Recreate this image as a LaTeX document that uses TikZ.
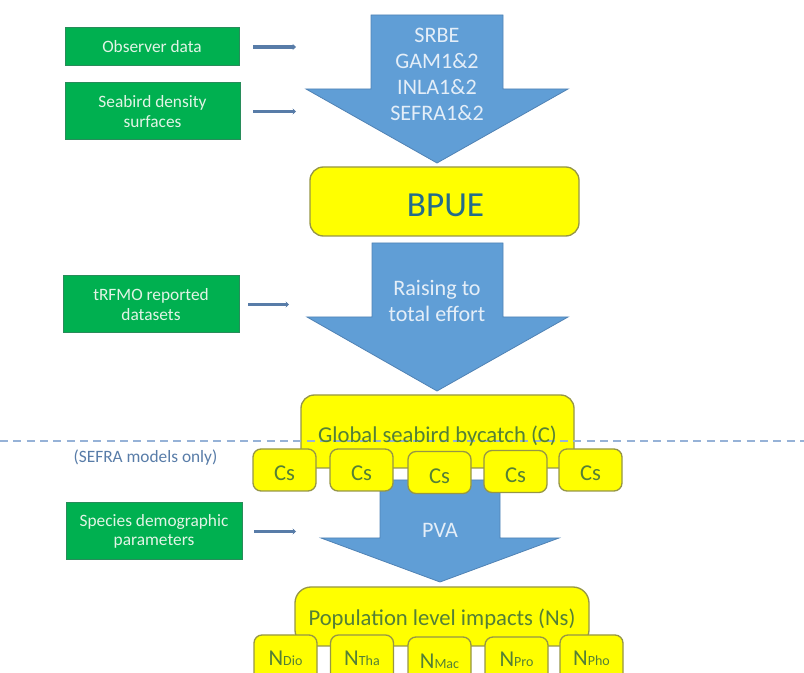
\documentclass[tikz,border=0pt]{standalone}
\usepackage{fontspec}
\setmainfont{Carlito}
\usetikzlibrary{arrows.meta}

\definecolor{datfill}{RGB}{0,176,80}
\definecolor{datedge}{RGB}{40,140,90}
\definecolor{dattext}{RGB}{226,244,230}
\definecolor{arrfill}{RGB}{96,158,214}
\definecolor{arredge}{RGB}{80,130,180}
\definecolor{arrtext}{RGB}{228,238,248}
\definecolor{yelfill}{RGB}{255,255,0}
\definecolor{yeledge}{RGB}{150,150,70}
\definecolor{yeltext}{RGB}{84,128,54}
\definecolor{bpuetext}{RGB}{36,108,138}
\definecolor{feedline}{RGB}{88,124,168}
\definecolor{cutline}{RGB}{150,178,215}

\tikzset{every picture/.style={line width=0.75pt}}
\tikzset{
  databox/.style={draw=datedge, fill=datfill, text=dattext, align=center, inner sep=0pt, outer sep=0pt,
    font=\fontsize{13}{14.5}\selectfont},
  feed/.style={draw=feedline, line width=2.6pt, -{Stealth[length=2.5pt,width=4.5pt]}},
  bigarrow/.style={draw=arredge, fill=arrfill, line width=0.6pt},
  arrlabel/.style={text=arrtext, align=center, inner sep=0pt, font=\fontsize{16.6}{19.5}\selectfont},
  yelbox/.style={draw=yeledge, fill=yelfill, line width=1pt, inner sep=0pt, outer sep=0pt},
  cbox/.style={yelbox, rounded corners=6pt, minimum width=47.25pt, minimum height=31.5pt},
  nbox/.style={yelbox, rounded corners=6pt, minimum width=47.25pt, minimum height=49.5pt},
  yeltxt/.style={text=yeltext, inner sep=0pt, anchor=base}
}

\begin{document}
\begin{tikzpicture}[x=0.75pt,y=0.75pt,yscale=-1,xscale=1]
\useasboundingbox (0,0) rectangle (804,673);
\clip (0,0) rectangle (804,673);

% Input data boxes
\draw (152,47) node [databox, minimum width=130.5pt, minimum height=28.5pt] (obsdata) {Observer data};
\draw (152.5,111.5) node [databox, minimum width=131.25pt, minimum height=42.75pt] (density) {Seabird density\\surfaces};
\draw (151,304.5) node [databox, minimum width=132pt, minimum height=42.75pt] (trfmo) {tRFMO reported\\datasets};
\draw (154,531.5) node [databox, minimum width=132pt, minimum height=42.75pt] (demog) {Species demographic\\parameters};

% Short feed lines
\draw [feed] ([xshift=10.5pt]obsdata.east) -- +(32.25pt,0);
\draw [feed] ([xshift=9.75pt]density.east) -- +(32.25pt,0);
\draw [feed] ([xshift=6.75pt]trfmo.east) -- +(30.75pt,0);
\draw [feed] ([xshift=9pt]demog.east) -- +(31.5pt,0);

% Block arrow 1
\draw [bigarrow] (371,15) -- (503,15) -- (503,89) -- (568,89) -- (437,163) -- (306,89) -- (371,89) -- cycle ;
% Block arrow 2
\draw [bigarrow] (372,243) -- (503,243) -- (503,317) -- (568,317) -- (437,391) -- (307,317) -- (372,317) -- cycle ;
% Block arrow 3
\draw [bigarrow] (380,480) -- (500,480) -- (500,538) -- (559,538) -- (440,582) -- (321,538) -- (380,538) -- cycle ;

% Text Node
\draw (437,74) node [arrlabel] (models) {SRBE\\GAM1\&2\\INLA1\&2\\SEFRA1\&2};
% Text Node
\draw (437,301) node [arrlabel] (raising) {Raising to\\total effort};
% Text Node
\draw (440,538) node [text=arrtext, inner sep=0pt, anchor=base, font=\fontsize{16.6}{19.5}\selectfont] (pva) {PVA};

% BPUE
\draw (444.5,201.5) node [yelbox, rounded corners=10pt, minimum width=201.75pt, minimum height=51.75pt] (bpue) {};
\draw (445.5,217) node [text=bpuetext, inner sep=0pt, anchor=base, font=\fontsize{26.4}{30}\selectfont] (bpuetxt) {BPUE};

% Global bycatch
\draw (437.5,431.5) node [yelbox, rounded corners=10pt, minimum width=204.75pt, minimum height=54.75pt] (global) {};
\draw [cutline, dash pattern=on 6pt off 4pt, line width=1pt] (0,441) -- (804,441);
\draw (437.5,443) node [yeltxt, font=\fontsize{17}{20}\selectfont] (globaltxt) {Global seabird bycatch (C)};

% Text Node
\draw (145.5,463) node [text=feedline, inner sep=0pt, anchor=base, font=\fontsize{13}{15}\selectfont] (sefra) {(SEFRA models only)};

% Species bycatch boxes
\draw (284.5,470) node [cbox] (cs1) {};
\draw (361.5,470) node [cbox] (cs2) {};
\draw (439.5,472.5) node [cbox] (cs3) {};
\draw (515.5,471.5) node [cbox] (cs4) {};
\draw (590.5,470) node [cbox] (cs5) {};
\foreach \i/\y in {1/481,2/481,3/483.5,4/482.5,5/481}
  \draw (cs\i |- 0,\y) node [yeltxt, font=\fontsize{17}{20}\selectfont] (cstxt\i) {Cs};

% Population impacts
\draw (442,616.5) node [yelbox, rounded corners=12pt, minimum width=220.5pt, minimum height=44.25pt] (popn) {};
\draw (442,625) node [yeltxt, font=\fontsize{17}{20}\selectfont] (popntxt) {Population level impacts (Ns)};

% Species population boxes
\draw (285.5,668) node [nbox] (n1) {};
\draw (362,668) node [nbox] (n2) {};
\draw (439.5,670) node [nbox] (n3) {};
\draw (516.5,670) node [nbox] (n4) {};
\draw (591.5,668) node [nbox] (n5) {};
\foreach \i/\s/\y in {1/Dio/665,2/Tha/665,3/Mac/668,4/Pro/667,5/Pho/665}
  \draw (n\i |- 0,\y) node [yeltxt, font=\fontsize{17}{20}\selectfont] (ntxt\i) {N{\fontsize{10.5}{12}\selectfont\s}};

\end{tikzpicture}
\end{document}
